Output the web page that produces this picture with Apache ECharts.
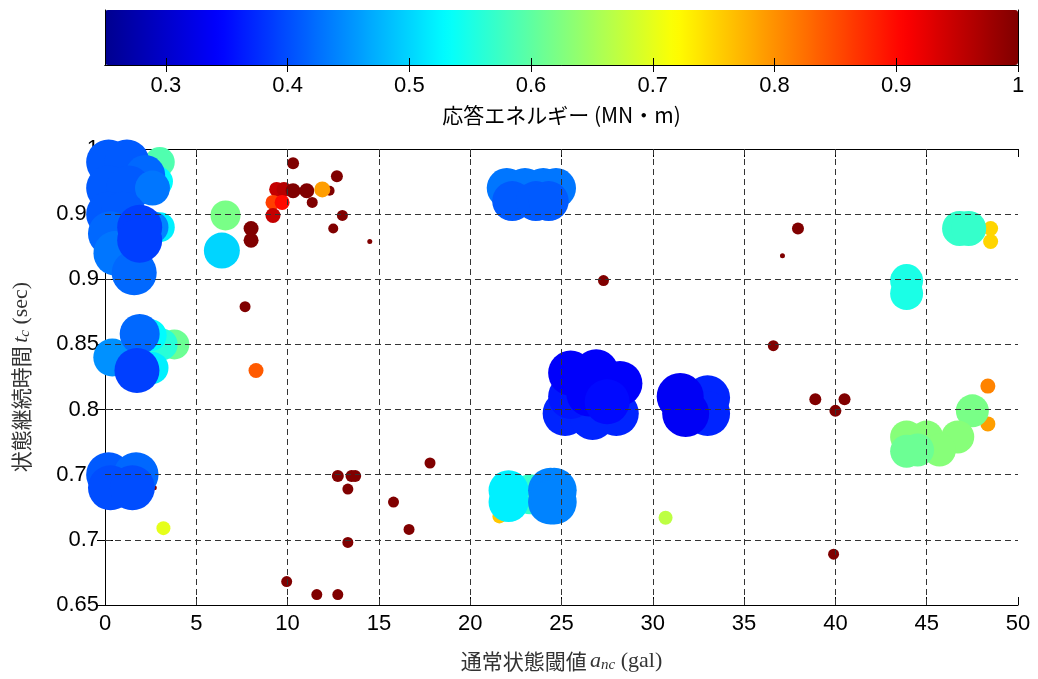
<!DOCTYPE html>
<html>
<head>
<meta charset="utf-8">
<script src="https://cdn.jsdelivr.net/npm/echarts@6/dist/echarts.min.js"></script>
<style>html,body{margin:0;padding:0;background:#fff;}#chart{width:1038px;height:679px;}</style>
</head>
<body>
<div id="chart"></div>
<script>
// threshold a_nc (gal)
const xs = [3.0,2.9,3.0,2.6,0.2,1.2,2.2,0.2,1.3,2.6,0.2,1.0,0.3,0.6,1.6,1.9,1.9,
  3.8,3.1,2.5,2.6,0.4,1.9,1.75,
  2.7,0.2,1.7,0.3,1.5,
  3.2,6.6,6.4,8.0,8.0,7.67,8.27,
  10.3,12.7,9.4,9.8,10.3,11.05,12.3,11.9,9.2,9.7,11.35,9.2,13.0,12.5,14.5,
  17.8,12.75,13.5,13.7,13.3,15.8,16.65,13.3,9.95,11.6,12.75,
  22.0,23.0,24.0,24.7,22.3,23.6,24.3,
  27.3,
  25.2,26.7,28.0,25.5,25.5,26.9,28.2,26.5,27.5,
  33.0,33.0,31.5,31.8,
  21.6,24.3,23.3,22.1,22.1,24.4,24.6,24.4,24.6,
  30.7,
  37.95,37.1,36.6,38.9,40.5,40.0,39.9,42.45,
  48.5,48.5,46.8,47.3,43.9,43.9,48.35,48.35,47.5,
  46.7,45.0,43.9,45.7,44.5,43.9];
// duration t_c (sec)
const ys = [0.99,0.975,0.94,0.94,0.99,0.99,0.98,0.97,0.97,0.97,0.95,0.95,0.935,0.92,0.905,0.94,0.93,
  0.85,0.85,0.857,0.832,0.84,0.858,0.83,
  0.74,0.75,0.75,0.74,0.74,
  0.709,0.949,0.922,0.939,0.93,0.879,0.83,
  0.989,0.979,0.969,0.969,0.968,0.968,0.968,0.969,0.959,0.959,0.959,0.949,0.949,0.939,0.929,
  0.759,0.749,0.749,0.749,0.739,0.729,0.708,0.698,0.668,0.658,0.658,
  0.97,0.97,0.97,0.97,0.96,0.96,0.96,
  0.899,
  0.797,0.794,0.797,0.81,0.828,0.829,0.82,0.812,0.806,
  0.809,0.797,0.81,0.797,
  0.718,0.718,0.735,0.738,0.729,0.738,0.738,0.729,0.729,
  0.717,
  0.939,0.918,0.849,0.808,0.808,0.799,0.689,0.648,
  0.939,0.929,0.939,0.939,0.899,0.889,0.818,0.789,0.799,
  0.779,0.779,0.779,0.769,0.769,0.768];
// response energy (MN·m)
const energy = [0.59,0.53,0.52,0.44,0.41,0.41,0.42,0.41,0.41,0.43,0.41,0.41,0.42,0.43,0.42,0.39,0.39,
  0.61,0.56,0.53,0.52,0.45,0.42,0.39,
  1.0,0.41,0.42,0.40,0.40,
  0.70,0.62,0.50,1.0,1.0,1.0,0.84,
  1.0,1.0,0.95,0.96,1.0,1.0,1.0,0.79,0.86,0.90,1.0,0.95,1.0,1.0,1.0,
  1.0,1.0,1.0,1.0,1.0,1.0,1.0,1.0,1.0,1.0,1.0,
  0.43,0.43,0.43,0.43,0.41,0.41,0.41,
  1.0,
  0.37,0.37,0.37,0.36,0.34,0.34,0.34,0.34,0.35,
  0.37,0.37,0.335,0.335,
  0.76,0.70,0.57,0.52,0.52,0.44,0.44,0.44,0.44,
  0.67,
  1.0,1.0,1.0,1.0,1.0,1.0,1.0,1.0,
  0.75,0.75,0.57,0.57,0.55,0.55,0.81,0.79,0.62,
  0.63,0.63,0.63,0.63,0.61,0.61];
// marker diameters
const sizes = [30,30,30,32,45,45,40,45,45,35,45,45,45,45,45,45,45,
  30,32,32,32,38,40,45,
  5,45,45,45,45,
  14,30,36,15,15,11,15,
  12,12,15,15,15,15,10,16,15,15,11,15,11,10,5,
  11,12,12,12,11,11,11,11,11,11,11,
  40,40,40,40,40,40,40,
  11,
  45,45,45,45,45,45,45,45,45,
  45,45,47,47,
  14,14,40,40,40,45,45,45,45,
  14,
  12,5,11,12,12,12,11,11,
  15,15,35,35,33,33,15,15,33,
  33,33,33,33,33,33];

const xTicks = [0,5,10,15,20,25,30,35,40,45,50];
const yTicks = [0.65,0.7,0.75,0.8,0.85,0.9,0.95,1];
const cbTicks = [0.3,0.4,0.5,0.6,0.7,0.8,0.9,1];
const jet = ['#00008F','#0000FF','#0080FF','#00FFFF','#80FF80','#FFFF00','#FF8000','#FF0000','#800000'];

const data = xs.map((x, i) => [x, ys[i], energy[i], sizes[i]]);

const tickFont = {fontFamily: 'Liberation Sans, Arial, sans-serif', fontSize: 22, color: '#000'};
const lineBlack = {show: true, lineStyle: {color: '#000', width: 1}};
const dashed = {show: true, lineStyle: {color: '#333', width: 1, type: [6, 4]}};
const fmt = v => String(Math.round(v * 100) / 100);

const chart = echarts.init(document.getElementById('chart'), null, {renderer: 'canvas'});
chart.setOption({
  animation: false,
  backgroundColor: '#fff',
  grid: [
    {left: 105, right: 20, top: 149, bottom: 74, containLabel: false},
    {left: 105, right: 20, top: 10, height: 55, containLabel: false}
  ],
  visualMap: {
    type: 'continuous', min: 0.25, max: 1, dimension: 2, seriesIndex: 0,
    orient: 'horizontal', left: 105, top: 10, itemWidth: 55, itemHeight: 913,
    calculable: false, padding: 0, text: null, hoverLink: false,
    inRange: {color: jet}
  },
  xAxis: [
    {type: 'value', gridIndex: 0, min: 0, max: 50, position: 'bottom',
     axisLine: lineBlack, axisTick: {show: true, inside: true, length: 8, customValues: xTicks, lineStyle: {color: '#000'}},
     axisLabel: Object.assign({margin: 8, customValues: xTicks, formatter: fmt}, tickFont),
     splitLine: {show: false},
     name: '{cjk|通常状態閾値} {it|a}{sub|nc}{ser| (gal)}', nameLocation: 'middle', nameGap: 45,
     nameTextStyle: {rich: {
       cjk: {fontFamily: 'Noto Sans CJK JP', fontSize: 21, color: '#333'},
       it: {fontFamily: 'Liberation Serif', fontStyle: 'italic', fontSize: 22, color: '#333'},
       sub: {fontFamily: 'Liberation Serif', fontStyle: 'italic', fontSize: 15, color: '#333', verticalAlign: 'bottom', padding: [8,0,0,0]},
       ser: {fontFamily: 'Liberation Serif', fontSize: 22, color: '#333'}
     }}},
    {type: 'value', gridIndex: 0, min: 0, max: 50, position: 'top',
     axisLine: lineBlack, axisTick: {show: true, inside: true, length: 8, customValues: xTicks, lineStyle: {color: '#000'}},
     axisLabel: {show: false}, splitLine: {show: false}},
    {type: 'value', gridIndex: 1, min: 0.25, max: 1, position: 'bottom', z: 10,
     axisLine: lineBlack, axisTick: {show: true, inside: true, length: 7, customValues: cbTicks, lineStyle: {color: '#000'}},
     axisLabel: Object.assign({margin: 10, customValues: cbTicks, formatter: fmt}, tickFont),
     splitLine: {show: false},
     name: '応答エネルギー (MN・m)', nameLocation: 'middle', nameGap: 40,
     nameTextStyle: {fontFamily: 'Noto Sans CJK JP', fontSize: 21, color: '#000'}},
    {type: 'value', gridIndex: 1, min: 0.25, max: 1, position: 'top', z: 10,
     axisLine: lineBlack, axisTick: {show: true, inside: true, length: 7, customValues: cbTicks, lineStyle: {color: '#000'}},
     axisLabel: {show: false}, splitLine: {show: false}}
  ],
  yAxis: [
    {type: 'value', gridIndex: 0, min: 0.65, max: 1, position: 'left',
     axisLine: lineBlack, axisTick: {show: true, inside: true, length: 8, customValues: yTicks, lineStyle: {color: '#000'}},
     axisLabel: Object.assign({margin: 6, customValues: yTicks, formatter: fmt}, tickFont),
     splitLine: {show: false},
     name: '{cjk|状態継続時間} {it|t}{sub|c}{ser| (sec)}', nameLocation: 'middle', nameGap: 72, nameRotate: 90,
     nameTextStyle: {rich: {
       cjk: {fontFamily: 'Noto Sans CJK JP', fontSize: 21, color: '#333'},
       it: {fontFamily: 'Liberation Serif', fontStyle: 'italic', fontSize: 22, color: '#333'},
       sub: {fontFamily: 'Liberation Serif', fontStyle: 'italic', fontSize: 15, color: '#333', verticalAlign: 'bottom', padding: [8,0,0,0]},
       ser: {fontFamily: 'Liberation Serif', fontSize: 22, color: '#333'}
     }}},
    {type: 'value', gridIndex: 0, min: 0.65, max: 1, position: 'right',
     axisLine: lineBlack, axisTick: {show: true, inside: true, length: 8, customValues: yTicks, lineStyle: {color: '#000'}},
     axisLabel: {show: false}, splitLine: {show: false}},
    {type: 'value', gridIndex: 1, min: 0, max: 1, position: 'left', z: 10,
     axisLine: lineBlack, axisTick: {show: false}, axisLabel: {show: false}, splitLine: {show: false}},
    {type: 'value', gridIndex: 1, min: 0, max: 1, position: 'right', z: 10,
     axisLine: lineBlack, axisTick: {show: false}, axisLabel: {show: false}, splitLine: {show: false}}
  ],
  series: [
    {type: 'scatter', xAxisIndex: 0, yAxisIndex: 0, data: data,
     symbolSize: v => v[3], itemStyle: {opacity: 1}, emphasis: {disabled: true}, z: 3},
    {type: 'line', xAxisIndex: 0, yAxisIndex: 0, data: [], silent: true,
     markLine: {silent: true, symbol: 'none', label: {show: false}, lineStyle: dashed.lineStyle,
       data: xTicks.slice(1, -1).map(v => ({xAxis: v})).concat(yTicks.slice(1, -1).map(v => ({yAxis: v})))}, z: 1}
  ]
});
</script>
</body>
</html>
